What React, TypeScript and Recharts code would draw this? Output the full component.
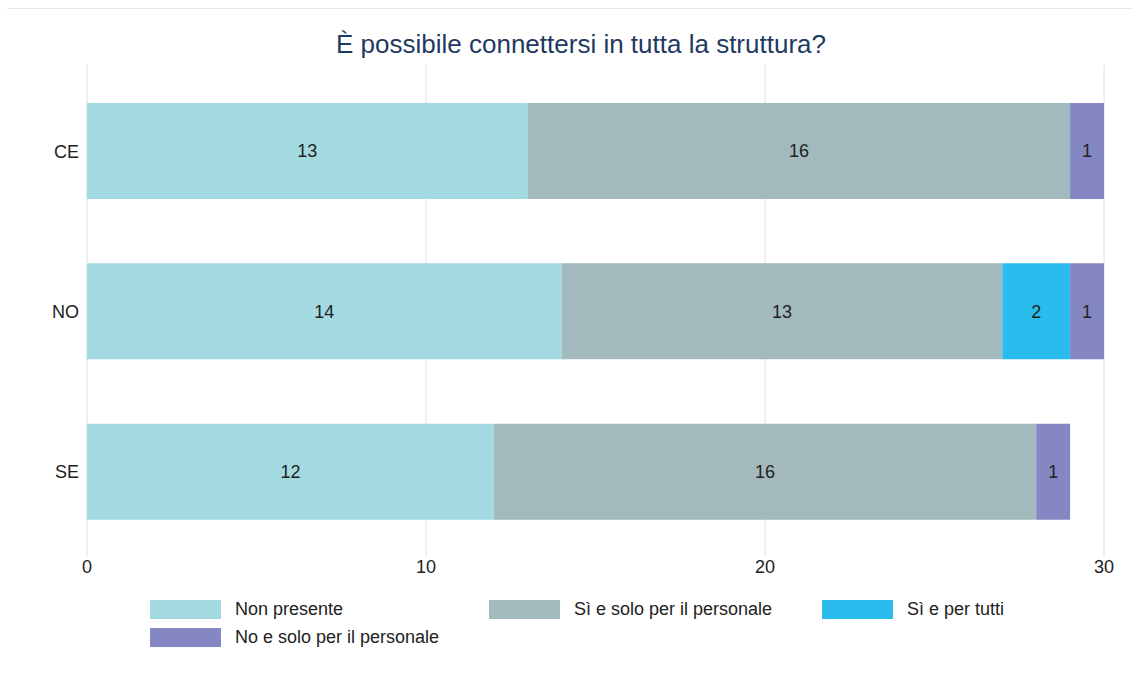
import { Bar, BarChart, CartesianGrid, LabelList, XAxis, YAxis } from "recharts";

const regions = ["CE", "NO", "SE"];
const nonPresente = [13, 14, 12];
const siSoloPersonale = [16, 13, 16];
const siPerTutti = [0, 2, 0];
const noSoloPersonale = [1, 1, 1];
const xTicks = [0, 10, 20, 30];

const series = [
  { key: "nonPresente", name: "Non presente", color: "#a3dae2" },
  { key: "siSoloPersonale", name: "Sì e solo per il personale", color: "#a2b9bd" },
  { key: "siPerTutti", name: "Sì e per tutti", color: "#2bbcee" },
  { key: "noSoloPersonale", name: "No e solo per il personale", color: "#8487c2" },
];

const data = regions.map((region, i) => ({
  region,
  nonPresente: nonPresente[i],
  siSoloPersonale: siSoloPersonale[i],
  siPerTutti: siPerTutti[i],
  noSoloPersonale: noSoloPersonale[i],
}));

const FONT = "'Liberation Sans', Arial, sans-serif";

function LegendGrid() {
  return (
    <div
      style={{
        position: "absolute",
        left: 150,
        top: 600,
        display: "grid",
        gridTemplateColumns: "339px 333px 300px",
        rowGap: 9,
        fontSize: 18,
        color: "#222",
      }}
    >
      {series.map((s) => (
        <div key={s.key} style={{ display: "flex", alignItems: "center", height: 19 }}>
          <span style={{ width: 71, height: 19, background: s.color, display: "inline-block" }} />
          <span style={{ marginLeft: 14, whiteSpace: "nowrap" }}>{s.name}</span>
        </div>
      ))}
    </div>
  );
}

export default function App() {
  return (
    <div style={{ position: "absolute", left: 0, top: 0, width: 1133, height: 682, background: "#fff", fontFamily: FONT }}>
      <div style={{ position: "absolute", left: 7, right: 0, top: 8, height: 1, background: "#e4ecee" }} />
      <div
        style={{
          position: "absolute",
          left: 0,
          width: 1162,
          top: 29,
          textAlign: "center",
          fontSize: 26,
          color: "#1f3a60",
        }}
      >
        È possibile connettersi in tutta la struttura?
      </div>
      <BarChart
        width={1133}
        height={682}
        data={data}
        layout="vertical"
        barSize={96}
        margin={{ top: 65, right: 29, bottom: 94, left: 0 }}
      >
        <CartesianGrid horizontal={false} stroke="#e0e0e0" />
        <XAxis
          type="number"
          domain={[0, 30]}
          ticks={xTicks}
          axisLine={false}
          tickLine={{ stroke: "#e0e0e0" }}
          tickSize={5}
          tickMargin={3}
          height={36}
          tick={{ fill: "#222", fontSize: 18, fontFamily: FONT }}
        />
        <YAxis
          type="category"
          dataKey="region"
          width={87}
          padding={{ top: 6, bottom: 0 }}
          axisLine={false}
          tickLine={false}
          tick={{ fill: "#222", fontSize: 18, fontFamily: FONT }}
        />
        {series.map((s) => (
          <Bar key={s.key} dataKey={s.key} name={s.name} stackId="a" fill={s.color} isAnimationActive={false}>
            <LabelList
              dataKey={s.key}
              position="center"
              fill="#222"
              fontSize={18}
              fontFamily={FONT}
              formatter={(v: any) => (v ? v : "")}
            />
          </Bar>
        ))}
      </BarChart>
      <LegendGrid />
    </div>
  );
}
